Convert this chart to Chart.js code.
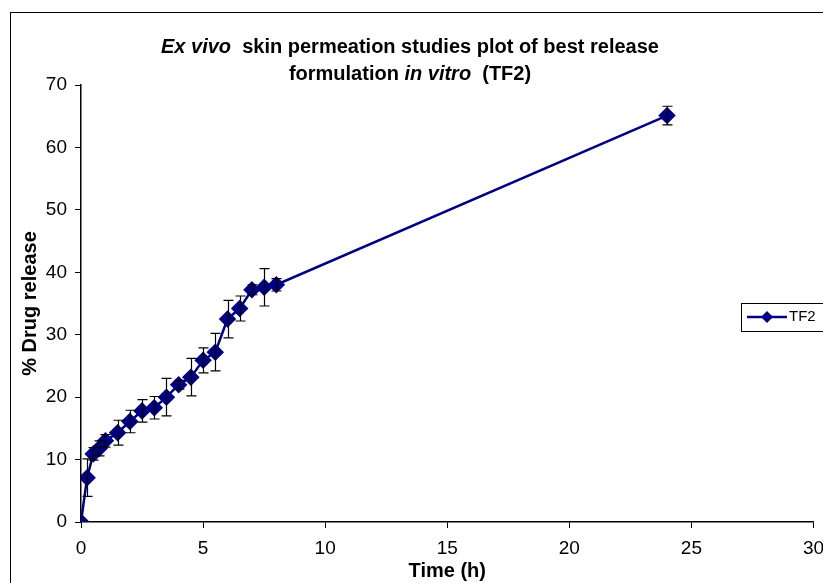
<!DOCTYPE html>
<html>
<head>
<meta charset="utf-8">
<script src="https://cdn.jsdelivr.net/npm/chart.js@4/dist/chart.umd.min.js"></script>
<style>
  html, body { margin: 0; padding: 0; background: #fff; }
  #wrap { width: 823px; height: 583px; }
</style>
</head>
<body>
<div id="wrap"><canvas id="chart"></canvas></div>
<script>
// valores
const timeH = [0, 0.25, 0.5, 0.75, 1, 1.5, 2, 2.5, 3, 3.5, 4, 4.5, 5, 5.5, 6, 6.5, 7, 7.5, 8, 24];
const releaseTF2 = [0, 7.1, 10.9, 11.8, 13.0, 14.3, 16.1, 17.8, 18.3, 20.0, 22.0, 23.2, 25.9, 27.2, 32.5, 34.2, 37.2, 37.6, 38.0, 65.1];
const sdTF2 = [0, 3.0, 1.0, 1.2, 1.0, 2.0, 1.8, 1.8, 1.8, 3.0, 0.7, 3.0, 2.0, 3.0, 3.0, 2.0, 0.8, 3.0, 1.0, 1.5];
const xTicks = [0, 5, 10, 15, 20, 25, 30];
const yTicks = [0, 10, 20, 30, 40, 50, 60, 70];
const seriesLabel = 'TF2';

const NAVY = '#000080';
const FONT = "'Liberation Sans', Arial, sans-serif";

const points = timeH.map((t, i) => ({ x: t, y: releaseTF2[i] }));

// fondo + marco exterior
const framePlugin = {
  id: 'frame',
  beforeDraw(chart) {
    const ctx = chart.ctx;
    ctx.save();
    ctx.fillStyle = '#fff';
    ctx.fillRect(0, 0, chart.width, chart.height);
    ctx.strokeStyle = '#000';
    ctx.lineWidth = 1;
    ctx.strokeRect(10.5, 12.5, chart.width + 20, chart.height + 20);
    ctx.restore();
  }
};

// barras de error (desviación estándar)
const errorBarPlugin = {
  id: 'errorBars',
  afterDatasetsDraw(chart) {
    const ctx = chart.ctx;
    const xs = chart.scales.x, ys = chart.scales.y;
    ctx.save();
    ctx.strokeStyle = '#000';
    ctx.lineWidth = 1.2;
    timeH.forEach((t, i) => {
      const sd = sdTF2[i];
      if (!sd) return;
      const px = Math.round(xs.getPixelForValue(t)) + 0.5;
      const top = ys.getPixelForValue(releaseTF2[i] + sd);
      const bot = ys.getPixelForValue(releaseTF2[i] - sd);
      ctx.beginPath();
      ctx.moveTo(px, top); ctx.lineTo(px, bot);
      ctx.moveTo(px - 5, top); ctx.lineTo(px + 5, top);
      ctx.moveTo(px - 5, bot); ctx.lineTo(px + 5, bot);
      ctx.stroke();
    });
    ctx.restore();
  }
};

// título con partes en cursiva + leyenda con recuadro
const titleLegendPlugin = {
  id: 'titleLegend',
  afterDraw(chart) {
    const ctx = chart.ctx;
    ctx.save();
    ctx.fillStyle = '#000';
    ctx.textBaseline = 'middle';
    const lines = [
      [['Ex vivo', true], ['  skin permeation studies plot of best release', false]],
      [['formulation ', false], ['in vitro', true], ['  (TF2)', false]]
    ];
    const ys = [47, 74];
    lines.forEach((parts, li) => {
      let total = 0;
      parts.forEach(([txt, it]) => {
        ctx.font = (it ? 'italic ' : '') + 'bold 20px ' + FONT;
        total += ctx.measureText(txt).width;
      });
      let x = 410 - total / 2;
      ctx.textAlign = 'left';
      parts.forEach(([txt, it]) => {
        ctx.font = (it ? 'italic ' : '') + 'bold 20px ' + FONT;
        ctx.fillText(txt, x, ys[li]);
        x += ctx.measureText(txt).width;
      });
    });

    // leyenda
    ctx.strokeStyle = '#000';
    ctx.lineWidth = 1;
    ctx.strokeRect(741.5, 303.5, 100, 28);
    const ds = chart.data.datasets[0];
    ctx.strokeStyle = ds.borderColor;
    ctx.lineWidth = ds.borderWidth;
    ctx.beginPath();
    ctx.moveTo(747, 317); ctx.lineTo(787, 317);
    ctx.stroke();
    ctx.fillStyle = ds.pointBackgroundColor;
    ctx.beginPath();
    ctx.moveTo(767, 311); ctx.lineTo(773, 317); ctx.lineTo(767, 323); ctx.lineTo(761, 317);
    ctx.closePath();
    ctx.fill();
    ctx.fillStyle = '#000';
    ctx.font = '15px ' + FONT;
    ctx.fillText(ds.label, 789, 317);
    ctx.restore();
  }
};

const ctx = document.getElementById('chart').getContext('2d');
new Chart(ctx, {
  type: 'line',
  data: {
    datasets: [{
      label: seriesLabel,
      data: points,
      borderColor: NAVY,
      backgroundColor: NAVY,
      borderWidth: 2.5,
      pointStyle: 'rectRot',
      pointRadius: 7,
      pointBackgroundColor: NAVY,
      pointBorderColor: NAVY,
      tension: 0,
      fill: false
    }]
  },
  options: {
    responsive: true,
    maintainAspectRatio: false,
    animation: false,
    layout: { padding: { left: 0, top: 85, right: 7, bottom: 0 } },
    plugins: {
      legend: { display: false },
      title: { display: false },
      tooltip: { enabled: false }
    },
    scales: {
      x: {
        type: 'linear',
        min: 0,
        max: 30,
        afterBuildTicks: s => { s.ticks = xTicks.map(v => ({ value: v })); },
        afterFit: s => { s.height = 61; s.paddingLeft = 0; s.paddingRight = 0; },
        grid: { drawOnChartArea: false, color: '#000', tickLength: 6, lineWidth: 1 },
        border: { color: '#000', width: 1.5 },
        ticks: { color: '#000', font: { family: FONT, size: 19 }, padding: 9, maxRotation: 0 },
        title: {
          display: true,
          text: 'Time (h)',
          color: '#000',
          font: { family: FONT, size: 20, weight: 'bold' },
          padding: { top: 0, bottom: 0 }
        }
      },
      y: {
        min: 0,
        max: 70,
        afterBuildTicks: s => { s.ticks = yTicks.map(v => ({ value: v })); },
        afterFit: s => { s.width = 81; s.paddingTop = 0; s.paddingBottom = 0; },
        grid: { drawOnChartArea: false, color: '#000', tickLength: 6, lineWidth: 1 },
        border: { color: '#000', width: 1.5 },
        ticks: { color: '#000', font: { family: FONT, size: 19 }, padding: 8 },
        title: {
          display: true,
          text: '% Drug release',
          color: '#000',
          font: { family: FONT, size: 20, weight: 'bold' },
          padding: { top: 18, bottom: 0 }
        }
      }
    }
  },
  plugins: [framePlugin, errorBarPlugin, titleLegendPlugin]
});
</script>
</body>
</html>
